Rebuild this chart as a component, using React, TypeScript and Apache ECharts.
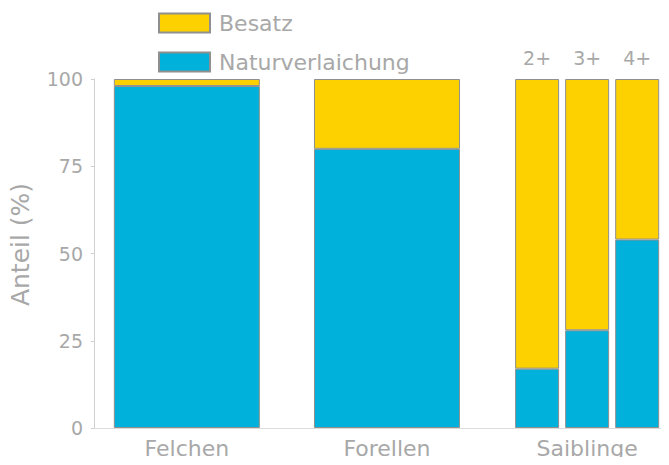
import { useEffect, useRef } from "react";
import * as echarts from "echarts";

// ---- data ----
const categories = ["Felchen", "Forellen", "Saiblinge"];
const bigGroups = ["Felchen", "Forellen"];
const bigNatur = [98, 80];
const bigBesatz = [2, 20];
const saiblingAges = ["2+", "3+", "4+"];
const saiblingNatur = [17, 28, 54];
const saiblingBesatz = [83, 72, 46];
const yTicks = [0, 25, 50, 75, 100];

// ---- layout (axis units) ----
const POS_BIG = [1, 3];
const POS_SAIB = [4.5, 5, 5.5];
const POS_LABEL = [1, 3, 5];
const X_MIN = 0.0723;
const X_MAX = 5.818;

const YELLOW = "#FDD100";
const BLUE = "#00B1DB";
const TEXT = "#a8a8a8";
const FONT = "'DejaVu Sans ExtraLight', 'DejaVu Sans', sans-serif";

export default function App() {
  const ref = useRef<HTMLDivElement>(null);
  useEffect(() => {
    if (!ref.current) return;
    const chart = echarts.init(ref.current, undefined, { renderer: "svg" });
    const itemBorder = { borderColor: "#8f8f8f", borderWidth: 1 };
    const labelMap: Record<string, string> = {};
    POS_LABEL.forEach((p, i) => (labelMap[String(p)] = categories[i]));
    const xBase = {
      type: "value" as const,
      min: X_MIN,
      max: X_MAX,
      splitLine: { show: false },
      axisTick: { show: false },
    };
    // value first, position second, so that stacking happens on the value
    const enc = { x: 1, y: 0 };
    chart.setOption({
      animation: false,
      textStyle: { fontFamily: FONT },
      legend: {
        orient: "vertical",
        left: 158,
        top: 12,
        itemWidth: 51,
        itemHeight: 19,
        itemGap: 17,
        padding: 0,
        icon: "rect",
        data: ["Besatz", "Naturverlaichung"],
        textStyle: { color: TEXT, fontSize: 22, fontFamily: FONT, padding: [0, 0, 0, 4] },
      },
      grid: { left: 93, right: 0, top: 79, bottom: 37 },
      xAxis: [
        {
          ...xBase,
          axisLine: { show: true, lineStyle: { color: "#dcdcdc", width: 1 } },
          axisLabel: {
            show: true,
            customValues: POS_LABEL,
            showMinLabel: true,
            showMaxLabel: true,
            formatter: (v: number) => labelMap[String(v)] ?? "",
            color: TEXT,
            fontSize: 22,
            fontFamily: FONT,
            margin: 9,
          },
        },
        {
          ...xBase,
          show: false,
        },
      ],
      yAxis: {
        type: "value",
        min: yTicks[0],
        max: yTicks[yTicks.length - 1],
        interval: 25,
        name: "Anteil (%)",
        nameLocation: "middle",
        nameGap: 61,
        nameTextStyle: { color: TEXT, fontSize: 25, fontFamily: FONT, padding: [0, 0, 0, 18] },
        axisLine: { show: true, lineStyle: { color: "#d0d0d0", width: 1 } },
        axisTick: { show: true, length: 3, lineStyle: { color: "#d0d0d0" } },
        splitLine: { show: false },
        axisLabel: { color: TEXT, fontSize: 19, fontFamily: FONT, margin: 11 },
      },
      series: [
        {
          name: "Naturverlaichung",
          type: "bar",
          stack: "big",
          xAxisIndex: 0,
          barWidth: 146,
          encode: enc,
          itemStyle: { color: BLUE, ...itemBorder },
          data: bigGroups.map((g, i) => ({ name: g, value: [bigNatur[i], POS_BIG[i]] })),
        },
        {
          name: "Besatz",
          type: "bar",
          stack: "big",
          xAxisIndex: 0,
          barWidth: 146,
          encode: enc,
          itemStyle: { color: YELLOW, ...itemBorder },
          data: bigGroups.map((g, i) => ({ name: g, value: [bigBesatz[i], POS_BIG[i]] })),
        },
        {
          name: "Naturverlaichung",
          type: "bar",
          stack: "small",
          xAxisIndex: 1,
          barWidth: 44,
          encode: enc,
          itemStyle: { color: BLUE, ...itemBorder },
          data: saiblingAges.map((a, i) => ({ name: a, value: [saiblingNatur[i], POS_SAIB[i]] })),
        },
        {
          name: "Besatz",
          type: "bar",
          stack: "small",
          xAxisIndex: 1,
          barWidth: 44,
          encode: enc,
          itemStyle: { color: YELLOW, ...itemBorder },
          label: {
            show: true,
            position: "top",
            distance: 12,
            formatter: (p: any) => saiblingAges[p.dataIndex],
            color: TEXT,
            fontSize: 19,
            fontFamily: FONT,
          },
          data: saiblingAges.map((a, i) => ({ name: a, value: [saiblingBesatz[i], POS_SAIB[i]] })),
        },
      ],
    });
    return () => chart.dispose();
  }, []);
  return <div ref={ref} style={{ width: 669, height: 465, margin: -8 }} />;
}
